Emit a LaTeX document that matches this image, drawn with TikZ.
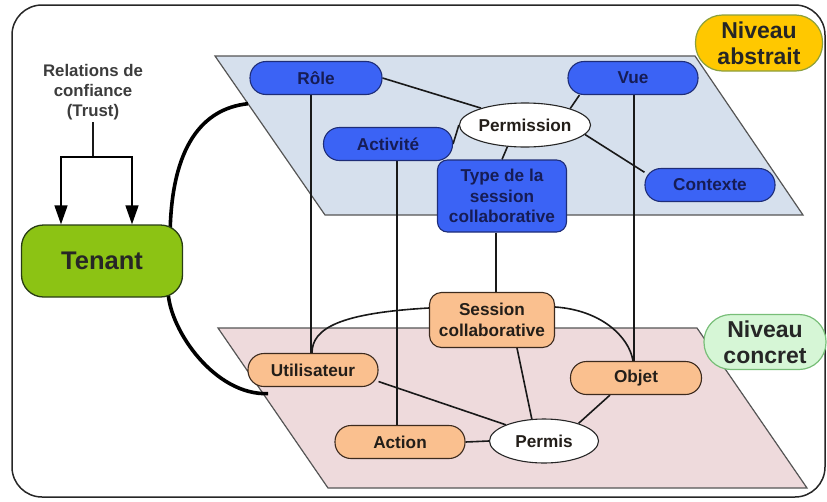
\documentclass[tikz,border=0pt]{standalone}
\usepackage{fontspec}
\setmainfont{Liberation Sans}
\usetikzlibrary{shapes.geometric,arrows.meta,calc}

% palette
\definecolor{absfill}{RGB}{59,99,245}
\definecolor{absborder}{RGB}{30,45,120}
\definecolor{abstext}{RGB}{22,28,85}
\definecolor{absplane}{RGB}{214,224,237}
\definecolor{concplane}{RGB}{238,218,220}
\definecolor{concfill}{RGB}{250,192,143}
\definecolor{concborder}{RGB}{60,42,30}
\definecolor{tenantfill}{RGB}{140,195,20}
\definecolor{tenantborder}{RGB}{40,60,20}
\definecolor{yellowfill}{RGB}{255,200,0}
\definecolor{yellowborder}{RGB}{140,160,60}
\definecolor{mintfill}{RGB}{214,246,214}
\definecolor{mintborder}{RGB}{120,190,120}
\definecolor{planeborder}{RGB}{85,85,85}
\definecolor{darktext}{RGB}{35,30,25}
\definecolor{trusttext}{RGB}{60,60,60}

\pgfdeclarelayer{planes}
\pgfdeclarelayer{links}
\pgfsetlayers{planes,links,main}

\begin{document}
\begin{tikzpicture}[x=1pt,y=-1pt,
  basefont/.style={font=\bfseries\fontsize{17.2}{20.5}\selectfont},
  absnode/.style={basefont, draw=absborder, fill=absfill, text=abstext,
    line width=1.1pt, rounded corners=16pt, minimum width=130pt,
    minimum height=33pt, inner sep=0pt, align=center},
  concnode/.style={basefont, draw=concborder, fill=concfill, text=darktext,
    line width=1.1pt, rounded corners=16pt, minimum width=130pt,
    minimum height=33pt, inner sep=0pt, align=center},
  relnode/.style={basefont, ellipse, draw=black!85, fill=white, text=darktext,
    line width=1.1pt, minimum width=110pt, minimum height=44pt, inner sep=0pt},
  tenantbox/.style={draw=tenantborder, fill=tenantfill, text=black!85,
    line width=1.3pt, rounded corners=22pt, minimum width=161pt,
    minimum height=72pt, inner sep=0pt,
    font=\bfseries\fontsize{25.5}{30}\selectfont},
  levelbox/.style={line width=1.2pt, rounded corners=27pt,
    minimum height=56pt, inner sep=0pt, align=center, text=black!85,
    font=\bfseries\fontsize{23}{26}\selectfont},
  trustlabel/.style={text=trusttext, align=center, inner sep=2pt,
    font=\bfseries\fontsize{16.8}{20}\selectfont},
  plane/.style={draw=planeborder, line width=1.2pt, line join=miter},
  link/.style={draw=black!90, line width=1.6pt},
  bond/.style={draw=black, line width=3.6pt},
  trustarrow/.style={draw=black, line width=1.6pt,
    -{Triangle[length=19pt,width=13pt]}}
]
\useasboundingbox (0,0) rectangle (827,501);

% ---------- nodes of the abstract level ----------
\node[absnode, minimum width=132pt] (role) at (316,78) {Rôle};
\node[absnode, minimum width=129pt] (act) at (388,144) {Activité};
\node[absnode] (vue) at (633,78) {Vue};
\node[absnode] (ctx) at (710,185) {Contexte};
\node[absnode, rounded corners=10pt, minimum width=129pt, minimum height=72pt]
  (type) at (502,196) {Type de la\\session\\collaborative};
\node[relnode] (perm) at (525,125) {Permission};

% ---------- nodes of the concrete level ----------
\node[concnode] (util) at (313,370) {Utilisateur};
\node[concnode] (action) at (400,442) {Action};
\node[concnode, rounded corners=12pt, minimum width=125pt, minimum height=55pt]
  (sess) at (492,320) {Session\\collaborative};
\node[concnode, minimum width=131pt] (obj) at (636,378) {Objet};
\node[relnode, minimum width=109pt] (permis) at (544,441) {Permis};

% ---------- tenant, trust and level labels ----------
\node[tenantbox] (tenant) at (102,261) {Tenant};
\node[trustlabel] (trust) at (93,92) {Relations de\\confiance\\(Trust)};
\node[levelbox, draw=yellowborder, fill=yellowfill, minimum width=127pt]
  (abstract) at (759,43) {Niveau\\abstrait};
\node[levelbox, draw=mintborder, fill=mintfill, minimum width=122pt,
  minimum height=55pt] (concrete) at (765,342) {Niveau\\concret};

% ---------- frame and the two planes ----------
\begin{pgfonlayer}{planes}
  \draw[draw=black!85, line width=1.5pt, rounded corners=30pt]
    (12,5) rectangle (825,497);
  \draw[plane, fill=absplane]
    (215,56) coordinate (a-tl) -- (695,56) coordinate (a-tr)
    -- (803,215) coordinate (a-br) -- (325,215) coordinate (a-bl) -- cycle;
  \draw[plane, fill=concplane]
    (218,328) coordinate (c-tl) -- (697,328) coordinate (c-tr)
    -- (807,488) coordinate (c-br) -- (328,488) coordinate (c-bl) -- cycle;
\end{pgfonlayer}

% ---------- connectors ----------
\begin{pgfonlayer}{links}
  % abstract level
  \draw[link] (role.east) -- (perm.159);
  \draw[link] ([xshift=12pt]vue.south west) -- (perm.20);
  \draw[link] (act.east) -- (perm.west);
  \draw[link] (perm.231) -- (type.north);
  \draw[link] (perm.351) -- (ctx.169);
  % between the levels
  \draw[link] ([xshift=-5pt]role.south) -- ([xshift=-2pt]util.north);
  \draw[link] ([xshift=9pt]act.south) -- ([xshift=-3pt]action.north);
  \draw[link] ([xshift=-6pt]type.south) -- ([xshift=4pt]sess.north);
  \draw[link] ([xshift=1pt]vue.south) -- ([xshift=-2pt]obj.north);
  % concrete level
  \draw[link] ([yshift=12pt]sess.west)
    .. controls +(-88,5) and +(0,-25) .. ([xshift=-1pt]util.north);
  \draw[link] ([yshift=13pt]sess.east)
    .. controls +(45,3) and +(-4,-25) .. ([xshift=-3pt]obj.north);
  \draw[link] ([xshift=25pt]sess.south) -- (permis.119);
  \draw[link] (util.-10) -- (permis.157);
  \draw[link] (action.east) -- (permis.west);
  \draw[link] ([xshift=-26pt]obj.south) -- (permis.27);
  % tenant attached to both planes
  \draw[bond] ([xshift=-13pt,yshift=-6pt]tenant.north east)
    .. controls +(2,-82) and +(-47,5) .. ($(a-tl)!0.3!(a-bl)$);
  \draw[bond] ([xshift=-15pt,yshift=5pt]tenant.south east)
    .. controls +(2,38) and +(-53,2) .. ($(c-tl)!0.41!(c-bl)+(5,0)$);
  % trust relations
  \draw[link] (trust.south) -- (trust.south |- 0,157) coordinate (fork);
  \draw[trustarrow] (fork) -| ([xshift=-41pt]tenant.north);
  \draw[trustarrow] (fork) -| ([xshift=30pt]tenant.north);
\end{pgfonlayer}
\end{tikzpicture}
\end{document}
